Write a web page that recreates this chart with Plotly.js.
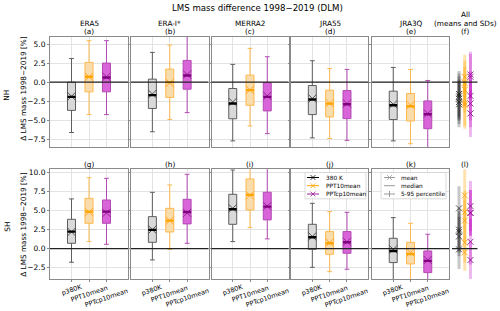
<!DOCTYPE html>
<html><head><meta charset="utf-8">
<script src="https://cdn.plot.ly/plotly-3.0.1.min.js"></script>
<style>html,body{margin:0;padding:0;background:#fff}#chart{width:500px;height:311px}</style>
</head><body><div id="chart"></div>
<script>
// ---------------- DATA ----------------
const reanalyses = ['ERA5', 'ERA-I*', 'MERRA2', 'JRA55', 'JRA3Q'];
const topLetters = ['(a)', '(b)', '(c)', '(d)', '(e)', '(f)'];
const botLetters = ['(g)', '(h)', '(i)', '(j)', '(k)', '(l)'];
const tickLabels = ['p380K', 'PPT10mean', 'PPTcp10mean'];
const legendNames = ['380 K', 'PPT10mean', 'PPTcp10mean'];
const statNames = ['mean', 'median', '5-95 percentile'];
const hemispheres = ['NH', 'SH'];

// NH (top row)
const nhP380K = {
  p5:   [-6.6, -6.5, -7.7, -7.3, -7.7],
  q1:   [-3.7, -3.45, -4.8, -4.25, -4.9],
  med:  [-1.93, -1.7, -2.8, -2.28, -3.03],
  q3:   [0.0, 0.4, -0.83, -0.44, -1.18],
  p95:  [3.1, 3.9, 2.33, 2.81, 1.93],
  mean: [-1.85, -1.55, -2.6, -2.15, -2.9],
  sd:   [3.0, 3.0, 2.9, 2.9, 3.0]
};
const nhPPT10 = {
  p5:   [-4.25, -4.9, -5.75, -7.4, -8.07],
  q1:   [-1.27, -2.0, -3.03, -4.56, -5.09],
  med:  [0.7, 0.0, -1.05, -2.81, -3.16],
  q3:   [2.59, 1.71, 0.92, -1.05, -1.49],
  p95:  [5.44, 4.87, 4.43, 1.8, 1.67],
  mean: [0.7, -0.1, -1.0, -2.75, -3.0],
  sd:   [2.9, 2.9, 3.0, 3.0, 3.1]
};
const nhPPTcp10 = {
  p5:   [-4.25, -3.99, -6.75, -7.63, -9.2],
  q1:   [-1.27, -0.92, -3.77, -4.78, -6.1],
  med:  [0.61, 0.88, -1.93, -2.89, -4.21],
  q3:   [2.5, 2.85, -0.05, -1.1, -2.46],
  p95:  [5.44, 6.4, 3.33, 1.67, 0.22],
  mean: [0.7, 1.0, -1.8, -2.8, -4.1],
  sd:   [3.0, 3.0, 3.2, 3.1, 3.1]
};
// SH (bottom row)
const shP380K = {
  p5:   [-1.8, -1.49, 0.92, -2.46, -4.6],
  q1:   [0.70, 0.83, 3.2, -0.09, -1.84],
  med:  [2.24, 2.46, 5.18, 1.49, -0.31],
  q3:   [3.86, 4.21, 7.15, 3.2, 1.36],
  p95:  [6.54, 7.41, 10.35, 5.96, 4.08],
  mean: [2.2, 2.5, 5.3, 1.6, -0.1],
  sd:   [2.7, 2.8, 2.9, 2.6, 2.6]
};
const shPPT10 = {
  p5:   [0.92, -0.09, 2.76, -3.03, -4.6],
  q1:   [3.33, 2.19, 5.09, -0.75, -2.02],
  med:  [4.87, 3.68, 7.07, 0.70, -0.70],
  q3:   [6.62, 5.3, 9.17, 2.24, 0.83],
  p95:  [9.34, 8.38, 11.0, 4.87, 3.33],
  mean: [4.8, 3.7, 7.0, 0.8, -0.5],
  sd:   [2.8, 2.8, 3.5, 2.6, 2.4]
};
const shPPTcp10 = {
  p5:   [0.57, 0.7, 1.28, -2.72, -4.6],
  q1:   [3.33, 3.25, 3.78, -0.61, -3.16],
  med:  [4.87, 4.82, 5.53, 0.83, -1.62],
  q3:   [6.4, 6.49, 7.42, 2.24, -0.31],
  p95:  [9.25, 9.78, 10.8, 4.78, 1.89],
  mean: [4.7, 4.7, 5.6, 0.9, -1.5],
  sd:   [3.0, 3.0, 3.3, 3.0, 2.5]
};
const rows = [[nhP380K, nhPPT10, nhPPTcp10], [shP380K, shPPT10, shPPTcp10]];

// ---------------- STYLE / LAYOUT ----------------
const W = 500, H = 311;
const FONT = 'DejaVu Sans';
const px = x => x / W, py = y => (H - y) / H;
const colX = [[50, 128], [131, 208.5], [211.5, 288.5], [291, 368.3], [372, 449], [452, 477.5]];
const rowY = [[36.7, 147], [169.3, 279.3]];
const yRanges = [[-8.5, 5.96], [-4.04, 10.44]];
const yTicks = [[-7.5, -5, -2.5, 0, 2.5, 5], [-2.5, 0, 2.5, 5, 7.5, 10]];
const XR = [-1.23, 3.23];
const BW = 0.46;
const styles = [
  {fill: '#d9d9d9', line: '#5e5e5e', med: '#000000', mean: '#444444', sd: 'rgba(0,0,0,0.22)', leg: '#000000'},
  {fill: '#f9dcab', line: '#ffb84d', med: '#ffa500', mean: '#ffa21a', sd: 'rgba(255,165,0,0.32)', leg: '#ffa500'},
  {fill: '#d963d9', line: '#b24ab2', med: '#800080', mean: '#8e1d8e', sd: 'rgba(191,0,191,0.28)', leg: '#a020a0'}
];
const grid = '#e3e3e3', frame = '#8a8a8a';

const traces = [];
const layout = {
  width: W, height: H, margin: {l: 0, r: 0, t: 0, b: 0},
  paper_bgcolor: '#fff', plot_bgcolor: '#fff', showlegend: false,
  font: {family: FONT, size: 7.4, color: '#000'},
  annotations: [], shapes: []
};

for (let r = 0; r < 2; r++) {
  for (let c = 0; c < 6; c++) {
    const n = r * 6 + c + 1;
    const isF = c === 5;
    layout['xaxis' + (n === 1 ? '' : n)] = {
      domain: [px(colX[c][0]), px(colX[c][1])], range: XR, anchor: 'y' + n,
      tickvals: [0, 1, 2], showticklabels: false,
      showgrid: !isF, gridcolor: grid, gridwidth: 1,
      showline: !isF, mirror: true, linecolor: frame, linewidth: 1,
      ticks: (!isF && r === 1) ? 'outside' : '', ticklen: 2, tickcolor: frame,
      zeroline: false, fixedrange: true
    };
    layout['yaxis' + (n === 1 ? '' : n)] = {
      domain: [py(rowY[r][1]), py(rowY[r][0])], range: yRanges[r], anchor: 'x' + n,
      tickvals: yTicks[r], tickformat: '.1f', showticklabels: c === 0,
      tickfont: {family: FONT, size: 7.5, color: '#000'},
      showgrid: !isF, gridcolor: grid, gridwidth: 1,
      showline: !isF, mirror: true, linecolor: frame, linewidth: 1,
      ticks: isF ? '' : 'outside', ticklen: 2, tickcolor: frame,
      zeroline: false, fixedrange: true
    };
    layout.shapes.push({type: 'line', xref: 'x' + n + ' domain', x0: 0, x1: 1, yref: 'y' + n, y0: 0, y1: 0,
      line: {color: '#222', width: 1.1}, layer: 'above'});
  }
  for (let s = 0; s < 3; s++) {
    const d = rows[r][s], st = styles[s];
    for (let k = 0; k < 5; k++) {
      const n = r * 6 + k + 1;
      traces.push({type: 'box', x: [s], q1: [d.q1[k]], median: [d.med[k]], q3: [d.q3[k]],
        lowerfence: [d.p5[k]], upperfence: [d.p95[k]], width: BW, whiskerwidth: 0.6,
        fillcolor: st.fill, line: {color: st.line, width: 1}, boxpoints: false,
        xaxis: 'x' + n, yaxis: 'y' + n, hoverinfo: 'skip'});
      traces.push({type: 'scatter', mode: 'markers', x: [s], y: [d.mean[k]],
        marker: {symbol: 'x-thin', size: 8, line: {width: 0.9, color: st.mean}},
        xaxis: 'x' + n, yaxis: 'y' + n, hoverinfo: 'skip'});
      traces.push({type: 'scatter', mode: 'lines', x: [s - BW / 2, s + BW / 2], y: [d.med[k], d.med[k]],
        line: {color: st.med, width: 2.4}, xaxis: 'x' + n, yaxis: 'y' + n, hoverinfo: 'skip'});
      const nf = r * 6 + 6;
      traces.push({type: 'scatter', mode: 'lines', x: [s, s], y: [d.mean[k] - d.sd[k], d.mean[k] + d.sd[k]],
        line: {color: st.sd, width: 3}, xaxis: 'x' + nf, yaxis: 'y' + nf, hoverinfo: 'skip'});
      traces.push({type: 'scatter', mode: 'markers', x: [s], y: [d.mean[k]],
        marker: {symbol: 'x-thin', size: 6, line: {width: 0.9, color: st.mean}},
        xaxis: 'x' + nf, yaxis: 'y' + nf, hoverinfo: 'skip'});
    }
  }
}

// ---------------- TEXT ----------------
function txt(x, y, t, size, opts) {
  layout.annotations.push(Object.assign({xref: 'paper', yref: 'paper', x: px(x), y: py(y), text: t,
    showarrow: false, font: {family: FONT, size: size, color: '#000'}, xanchor: 'center', yanchor: 'middle'}, opts || {}));
}
txt(257.5, 8.5, 'LMS mass difference 1998\u22122019 (DLM)', 8.6);
for (let c = 0; c < 5; c++) {
  const cx = (colX[c][0] + colX[c][1]) / 2;
  txt(cx, 23.3, reanalyses[c], 7.3);
  txt(cx, 31.7, topLetters[c], 7.3);
  txt(cx, 164, botLetters[c], 7.3);
}
const fcx = 465;
txt(fcx, 14.8, 'All', 7.3);
txt(fcx, 23.2, '(means and SDs)', 7.3);
txt(fcx, 31.7, topLetters[5], 7.3);
txt(fcx, 164, botLetters[5], 7.3);
txt(6.7, 95, hemispheres[0], 7.4, {textangle: -90});
txt(6.7, 227, hemispheres[1], 7.4, {textangle: -90});
txt(22.7, 89, '\u0394 LMS mass 1998\u22122019 [%]', 7.3, {textangle: -90});
txt(22.7, 225, '\u0394 LMS mass 1998\u22122019 [%]', 7.3, {textangle: -90});
// rotated x tick labels (bottom row), centred on their ticks
const tickLabelY = [289.5, 294, 298.3];
for (let c = 0; c < 5; c++) {
  const n = 6 + c + 1;
  for (let s = 0; s < 3; s++) {
    layout.annotations.push({xref: 'x' + n, yref: 'paper', x: s, y: py(tickLabelY[s]), text: tickLabels[s],
      showarrow: false, textangle: -19, xanchor: 'center', yanchor: 'middle', borderpad: 0,
      font: {family: FONT, size: 6.5, color: '#000'}});
  }
}

// ---------------- LEGENDS (drawn as layout decorations) ----------------
function legendBox(x0, x1, y0, y1) {
  layout.shapes.push({type: 'rect', xref: 'paper', yref: 'paper', x0: px(x0), x1: px(x1), y0: py(y1), y1: py(y0),
    fillcolor: 'rgba(255,255,255,0.85)', line: {color: '#d0d0d0', width: 0.8}, layer: 'above'});
}
function lseg(x0, y0, x1, y1, color, w) {
  layout.shapes.push({type: 'line', xref: 'paper', yref: 'paper', x0: px(x0), y0: py(y0), x1: px(x1), y1: py(y1),
    line: {color: color, width: w}, layer: 'above'});
}
function xmark(cx, cy, color) {
  const h = 2.4;
  lseg(cx - h, cy - h, cx + h, cy + h, color, 0.8);
  lseg(cx - h, cy + h, cx + h, cy - h, color, 0.8);
}
const legRows = [177.5, 185.7, 194];
legendBox(305, 366, 172.5, 198.8);
for (let s = 0; s < 3; s++) {
  lseg(307, legRows[s], 319, legRows[s], styles[s].leg, 1);
  xmark(313, legRows[s], styles[s].leg);
  txt(323.5, legRows[s], legendNames[s], 5.8, {xanchor: 'left'});
}
legendBox(381, 446, 172.5, 198.8);
const lg = '#9a9a9a';
for (let s = 0; s < 3; s++) {
  lseg(384, legRows[s], 395, legRows[s], lg, 1);
  txt(399, legRows[s], statNames[s], 5.8, {xanchor: 'left'});
}
xmark(389.5, legRows[0], lg);
lseg(389.5, legRows[2] - 3, 389.5, legRows[2] + 3, lg, 1);

Plotly.newPlot('chart', traces, layout, {staticPlot: true, displayModeBar: false});
</script></body></html>
